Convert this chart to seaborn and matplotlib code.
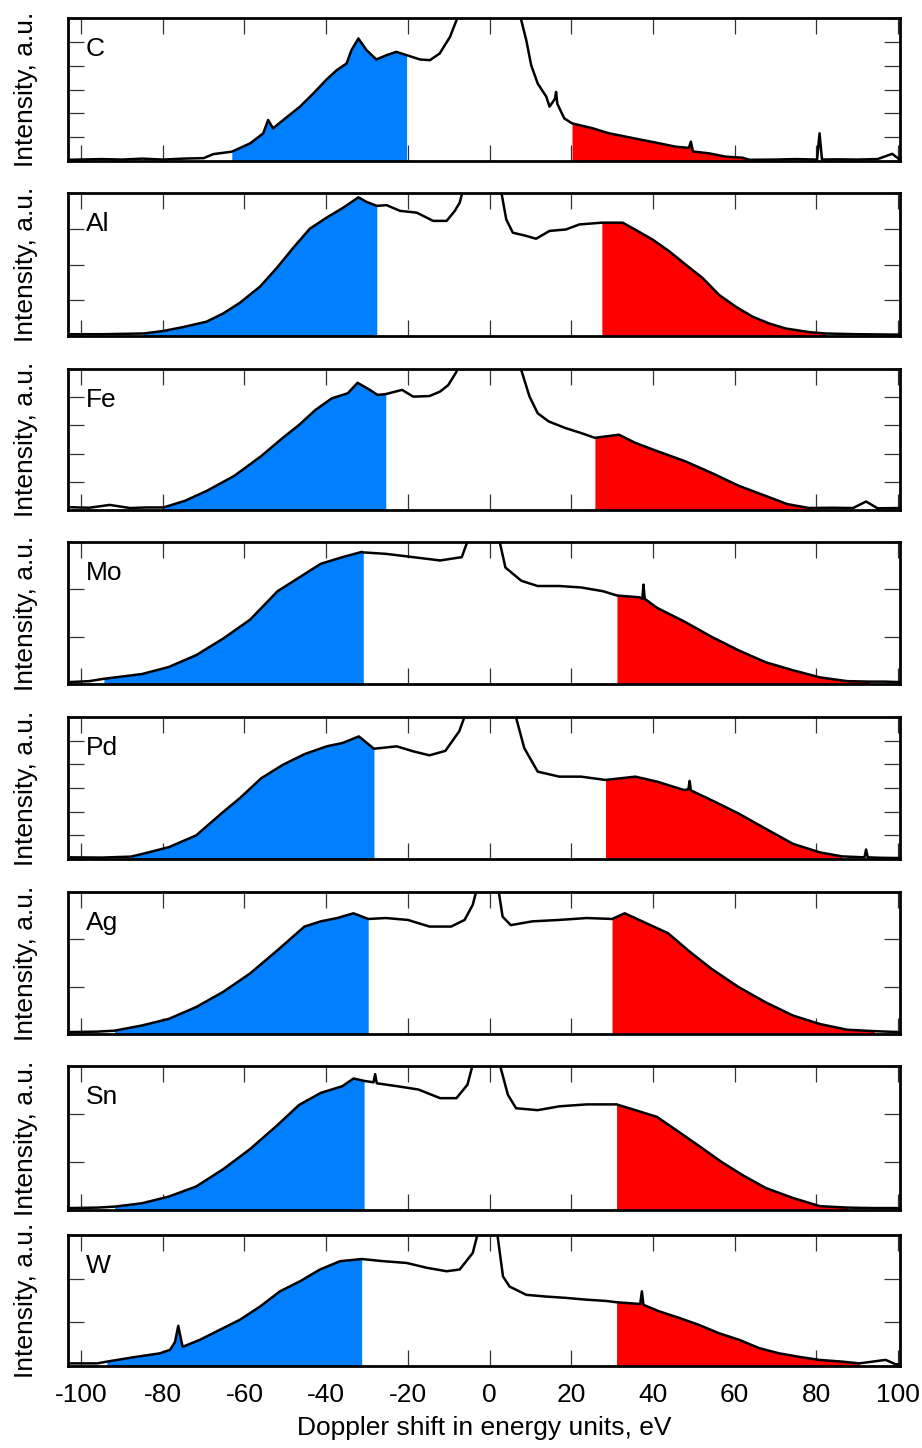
import numpy as np
import pandas as pd
import matplotlib
matplotlib.use("Agg")
import matplotlib.pyplot as plt
import seaborn as sns

# Target elements, top to bottom
elements = ["C", "Al", "Fe", "Mo", "Pd", "Ag", "Sn", "W"]

# Doppler shift (eV) and intensity (units of one y-tick) for each target
c_shift = [-103, -95, -90, -85, -80, -75, -70, -67.6, -63.1, -58.6,
           -55.4, -54.2, -53, -49.7, -46.4, -43.1, -39.9, -37.4, -35, -33.8,
           -32.1, -30.1, -27.7, -25.2, -22.8, -20.3, -17, -14.6, -12.2, -9.7,
           -8.1, -7.6, 0, 7.4, 7.7, 9, 10.2, 11.8, 13.9, 14.7,
           16.0, 16.3, 16.6, 18.3, 20.2, 25.3, 29.3, 33.4, 37.5, 41.6,
           45.6, 48.8, 49.3, 49.8, 53.8, 57.9, 61.9, 63.6, 70, 75,
           80.2, 80.8, 81.4, 85, 90, 95, 98.6, 100.5]
c_int = [0.05, 0.08, 0.06, 0.10, 0.06, 0.10, 0.12, 0.29, 0.39, 0.74,
         1.16, 1.72, 1.37, 1.83, 2.28, 2.84, 3.42, 3.81, 4.09, 4.65,
         5.14, 4.65, 4.26, 4.44, 4.58, 4.44, 4.26, 4.23, 4.51, 5.20,
         5.90, 6.40, 12.0, 6.40, 5.96, 5.07, 4.02, 3.25, 2.70, 2.28,
         2.60, 2.90, 2.40, 1.79, 1.58, 1.37, 1.16, 1.02, 0.88, 0.74,
         0.60, 0.55, 0.81, 0.40, 0.32, 0.18, 0.14, 0.05, 0.06, 0.08,
         0.06, 1.16, 0.06, 0.07, 0.06, 0.08, 0.30, 0.05]

al_shift = [-103, -95, -90, -84.7, -79.9, -75, -69.3, -65.2, -61.1, -56.2,
            -52.1, -48.1, -44, -39.9, -35.8, -32.1, -30.1, -27.6, -25.2, -21.9,
            -17.8, -13.8, -10.5, -8.5, -7.3, -6.0, -1.6, 2.6, 2.9, 4.1,
            5.7, 9, 11.4, 14.7, 18.7, 22, 25.3, 27.5, 32.6, 35.9,
            39.9, 44, 48.1, 52.2, 56.2, 60.3, 64.4, 68.5, 72.5, 78.2,
            82.3, 90, 98.6, 100.5]
al_int = [0.05, 0.05, 0.06, 0.07, 0.14, 0.25, 0.40, 0.63, 0.93, 1.38,
          1.90, 2.46, 3.00, 3.31, 3.59, 3.88, 3.75, 3.64, 3.66, 3.50,
          3.45, 3.22, 3.22, 3.50, 3.73, 4.30, 9.0, 4.30, 4.02, 3.26,
          2.89, 2.80, 2.72, 2.94, 2.98, 3.12, 3.15, 3.17, 3.17, 2.96,
          2.70, 2.37, 1.99, 1.62, 1.15, 0.82, 0.54, 0.35, 0.21, 0.11,
          0.07, 0.05, 0.04, 0.04]

fe_shift = [-103, -98, -93, -88, -84, -79.8, -74.5, -69.2, -62.5, -55.9,
            -50.6, -46.6, -42.6, -38.6, -34.7, -32.3, -29.3, -27.4, -25.4, -21.4,
            -18.7, -14.7, -12.1, -10.1, -8.1, -7.6, 0, 7.6, 7.8, 9.8,
            11.8, 14.5, 18.5, 22.4, 25.8, 31.7, 35.7, 41, 47.7, 54.3,
            61, 67.6, 72.9, 78.2, 84, 89, 92.2, 95, 100.5]
fe_int = [0.10, 0.08, 0.18, 0.07, 0.09, 0.09, 0.33, 0.68, 1.21, 1.91,
          2.56, 3.02, 3.55, 3.96, 4.14, 4.51, 4.26, 4.08, 4.11, 4.26,
          4.02, 4.04, 4.20, 4.43, 4.90, 5.30, 11.0, 5.30, 4.95, 4.02,
          3.43, 3.14, 2.91, 2.73, 2.56, 2.67, 2.38, 2.09, 1.74, 1.32,
          0.86, 0.50, 0.21, 0.07, 0.08, 0.07, 0.30, 0.06, 0.07]

mo_shift = [-103, -98, -94.4, -85.1, -78.5, -71.8, -65.2, -58.6, -51.9, -46.6,
            -41.3, -36, -31.3, -30.9, -25.4, -18.7, -12.1, -6.8, -4.6, -1.0,
            2.3, 2.5, 3.9, 7.8, 11.8, 17.1, 22.4, 27.8, 31.2, 36.8,
            37.4, 37.7, 38.0, 41, 47.7, 54.3, 61, 67.6, 74.3, 80.9,
            87.6, 93, 96.9, 100.5]
mo_int = [0.04, 0.06, 0.11, 0.21, 0.36, 0.61, 0.96, 1.36, 1.96, 2.25,
          2.54, 2.68, 2.79, 2.78, 2.75, 2.68, 2.61, 2.68, 3.20, 7.0,
          3.20, 3.00, 2.46, 2.18, 2.07, 2.07, 2.04, 1.96, 1.87, 1.83,
          1.80, 2.10, 1.80, 1.61, 1.32, 1.00, 0.71, 0.46, 0.29, 0.14,
          0.06, 0.05, 0.05, 0.04]

pd_shift = [-103, -95, -87.8, -85.1, -78.5, -71.8, -65.2, -61.2, -55.9, -50.6,
            -45.3, -39.9, -36, -32, -28.3, -22.7, -18.7, -14.7, -10.8, -7.4,
            -5.5, 0.3, 6.0, 8.5, 11.8, 17.1, 22.4, 28.4, 35.7, 41,
            47.7, 48.7, 49.0, 49.3, 54.3, 61, 67.6, 74.3, 80.9, 86.3,
            91.8, 92.2, 92.6, 96, 100.5]
pd_int = [0.07, 0.06, 0.10, 0.21, 0.50, 1.00, 1.99, 2.56, 3.41, 3.98,
          4.43, 4.76, 4.90, 5.18, 4.66, 4.76, 4.55, 4.38, 4.57, 5.40,
          6.30, 14.0, 6.30, 4.69, 3.69, 3.48, 3.48, 3.34, 3.48, 3.27,
          2.91, 2.95, 3.30, 2.90, 2.49, 1.92, 1.28, 0.64, 0.28, 0.11,
          0.07, 0.40, 0.07, 0.05, 0.04]

ag_shift = [-103, -96, -91.8, -85.1, -78.5, -71.8, -65.2, -58.6, -51.9, -45.3,
            -41.3, -37.3, -33.3, -29.7, -25.4, -20, -14.7, -9.4, -6.1, -4.1,
            -3.0, -0.4, 2.1, 3.2, 5.2, 10.5, 17.1, 23.8, 30.0, 33.1,
            38.4, 43.7, 49, 54.3, 61, 67.6, 74.3, 80.9, 87.6, 94.2,
            100.5]
ag_int = [0.04, 0.05, 0.07, 0.18, 0.32, 0.57, 0.89, 1.28, 1.77, 2.27,
          2.38, 2.45, 2.55, 2.43, 2.45, 2.41, 2.27, 2.27, 2.41, 2.73,
          3.10, 8.0, 3.10, 2.48, 2.30, 2.38, 2.41, 2.45, 2.43, 2.55,
          2.34, 2.13, 1.74, 1.38, 0.99, 0.67, 0.39, 0.21, 0.09, 0.06,
          0.04]

sn_shift = [-103, -96, -91.8, -85.1, -78.5, -71.8, -65.2, -58.6, -51.9, -46.6,
            -41.3, -36, -33.3, -30.7, -28.4, -28.0, -27.6, -22.7, -17.4, -12.1,
            -8.1, -5.4, -3.9, -0.8, 2.3, 4.5, 6.5, 11.8, 17.1, 23.8,
            31.1, 35.7, 41, 46.3, 51.7, 57, 62.3, 67.6, 74.3, 80.9,
            87.6, 94, 100.5]
sn_int = [0.04, 0.05, 0.07, 0.14, 0.28, 0.49, 0.85, 1.27, 1.77, 2.19,
          2.44, 2.58, 2.74, 2.69, 2.66, 2.83, 2.64, 2.58, 2.51, 2.33,
          2.33, 2.61, 3.10, 7.0, 3.10, 2.40, 2.12, 2.08, 2.16, 2.20,
          2.20, 2.08, 1.94, 1.63, 1.31, 0.99, 0.71, 0.46, 0.25, 0.08,
          0.05, 0.04, 0.04]

w_shift = [-103, -96, -93.7, -87.2, -80.7, -78.2, -77.0, -76.2, -75.4, -75.1,
           -70.9, -66, -61.1, -56.2, -51.3, -46.4, -41.5, -36.6, -31.3, -26,
           -20.3, -15.4, -10.5, -7.3, -4.1, -2.7, -0.5, 1.8, 3.3, 4.9,
           9, 13.9, 18.7, 23.6, 28.5, 31.1, 36.9, 37.3, 37.7, 41.6,
           46.5, 51.3, 56.2, 61.1, 66, 70.9, 75.8, 80.7, 86.4, 90.5,
           97, 99.4, 100.5]
w_int = [0.06, 0.06, 0.10, 0.20, 0.29, 0.37, 0.55, 0.92, 0.55, 0.44,
         0.60, 0.83, 1.06, 1.36, 1.71, 1.94, 2.21, 2.40, 2.45, 2.40,
         2.36, 2.25, 2.17, 2.21, 2.59, 3.10, 8.0, 3.10, 2.05, 1.82,
         1.63, 1.59, 1.56, 1.52, 1.49, 1.46, 1.42, 1.71, 1.40, 1.25,
         1.10, 0.94, 0.75, 0.60, 0.41, 0.29, 0.21, 0.14, 0.10, 0.06,
         0.14, 0.04, 0.04]

shifts = [c_shift, al_shift, fe_shift, mo_shift, pd_shift, ag_shift, sn_shift, w_shift]
intensities = [c_int, al_int, fe_int, mo_int, pd_int, ag_int, sn_int, w_int]

# Shaded wings: backward-shifted (blue) and forward-shifted (red) ranges, eV
blue_from = [-63.1, -84.7, -79.8, -94.4, -87.8, -91.8, -91.8, -93.7]
blue_to = [-20.3, -27.6, -25.4, -30.9, -28.3, -29.7, -30.7, -31.3]
red_from = [20.2, 27.5, 25.8, 31.2, 28.4, 30.0, 31.1, 31.1]
red_to = [63.6, 82.3, 78.2, 93.0, 86.3, 94.2, 87.6, 90.5]

# Vertical extent of each panel, in tick units
y_top = [6, 4, 5, 3, 6, 3, 3, 3]
x_ticks = list(range(-100, 101, 20))

sns.set_theme(style="white")
plt.rcParams["font.family"] = ["Liberation Sans", "DejaVu Sans"]

W, H = 922, 1448
fig = plt.figure(figsize=(W / 100, H / 100), dpi=100)

panel_top = [18, 193, 369, 542, 717, 892, 1066, 1235]
panel_bottom = [161, 336, 510, 684, 859, 1034, 1210, 1366]
left_px, right_px = 68, 900

for i, el in enumerate(elements):
    ax = fig.add_axes([left_px / W, 1 - panel_bottom[i] / H,
                       (right_px - left_px) / W, (panel_bottom[i] - panel_top[i]) / H])
    x = np.array(shifts[i], dtype=float)
    y = np.array(intensities[i], dtype=float)
    df = pd.DataFrame({"shift": x, "intensity": y})

    blue = (x >= blue_from[i]) & (x <= blue_to[i])
    red = (x >= red_from[i]) & (x <= red_to[i])
    ax.fill_between(x, 0, y, where=blue, color="#0080ff", linewidth=0)
    ax.fill_between(x, 0, y, where=red, color="#ff0000", linewidth=0)
    sns.lineplot(data=df, x="shift", y="intensity", ax=ax, color="black",
                 linewidth=1.8, estimator=None, sort=False)

    ax.set_xlim(-103.2, 100.5)
    ax.set_ylim(0, y_top[i])
    ax.set_xticks(x_ticks)
    ax.set_yticks(range(0, y_top[i] + 1))
    last = i == len(elements) - 1
    ax.tick_params(axis="both", direction="in", length=11.5, width=0.9,
                   color="#333333", labelcolor="black",
                   top=True, bottom=True, left=True, right=True,
                   labelleft=False, labelbottom=last, labelsize=19, pad=12)
    for sp in ax.spines.values():
        sp.set_linewidth(2.0)
        sp.set_color("black")
    ax.grid(False)

    ax.set_ylabel("Intensity, a.u.", fontsize=19, color="black")
    ax.yaxis.set_label_coords(-0.036, 0.5)
    if last:
        ax.set_xticklabels([str(t) for t in x_ticks])
        ax.set_xlabel("Doppler shift in energy units, eV", fontsize=19,
                      color="black", labelpad=7)
    else:
        ax.set_xlabel("")

    ax.annotate(el, xy=(0, 1), xycoords="axes fraction", xytext=(18, -19),
                textcoords="offset pixels", ha="left", va="top", fontsize=19,
                color="black")

fig.savefig("out.png", dpi=100)
